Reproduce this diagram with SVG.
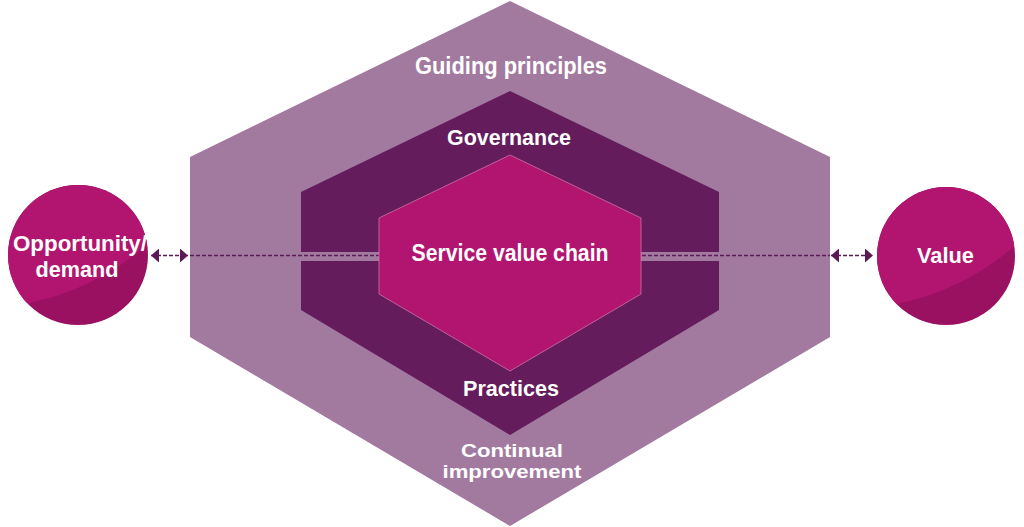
<svg xmlns="http://www.w3.org/2000/svg" width="1024" height="527" viewBox="0 0 1024 527">
  <style>
    .lbl { font-family: "Liberation Sans Narrow", "Liberation Sans", Arial, sans-serif; font-weight: bold; fill: #ffffff; text-anchor: middle; }
    .outer { fill: #A27A9F; }
    .mid { fill: #641C5D; }
    .inner { fill: #B1156F; stroke: #D77FB0; stroke-width: 1; stroke-opacity: 0.7; }
    .dash { stroke: #5B1A55; stroke-width: 1.6; stroke-dasharray: 4 2; fill: none; }
    .circ { fill: #B1156F; }
    .shade { fill: #9A1161; }
  </style>
  <defs>
    <marker id="ah" viewBox="0 0 8 14" refX="8" refY="7" markerWidth="8" markerHeight="14" markerUnits="userSpaceOnUse" orient="auto-start-reverse">
      <path d="M0,0 L8,7 L0,14 Z" fill="#5B1A55"/>
    </marker>
    <clipPath id="clipL"><circle cx="78" cy="255" r="70"/></clipPath>
    <clipPath id="clipR"><circle cx="946" cy="256" r="69"/></clipPath>
  </defs>

  <g id="guiding-principles">
    <polygon class="outer" points="510,1 830,157 830,337 510,526 190,337 190,157"/>
    <text class="lbl" x="511" y="74" font-size="23" textLength="192" lengthAdjust="spacingAndGlyphs">Guiding principles</text>
  </g>

  <g id="governance-practices">
    <polygon class="mid" points="510,91 719,192 719,310 510,435 301,310 301,192"/>
    <rect class="outer" x="301" y="252" width="80" height="9"/>
    <rect class="outer" x="640" y="252" width="79" height="9"/>
    <text class="lbl" x="509" y="145" font-size="22" textLength="124" lengthAdjust="spacingAndGlyphs">Governance</text>
    <text class="lbl" x="511" y="396" font-size="22" textLength="96" lengthAdjust="spacingAndGlyphs">Practices</text>
  </g>

  <g id="continual-improvement">
    <text class="lbl" x="512" y="456.5" font-size="19" textLength="102" lengthAdjust="spacingAndGlyphs">Continual</text>
    <text class="lbl" x="512" y="478" font-size="19" textLength="139" lengthAdjust="spacingAndGlyphs">improvement</text>
  </g>

  <g id="connectors">
    <line class="dash" x1="190" y1="255.5" x2="379" y2="255.5"/>
    <line class="dash" x1="642" y1="255.5" x2="830" y2="255.5"/>
    <line class="dash" x1="151" y1="255.5" x2="188" y2="255.5" marker-start="url(#ah)" marker-end="url(#ah)"/>
    <line class="dash" x1="831" y1="255.5" x2="873" y2="255.5" marker-start="url(#ah)" marker-end="url(#ah)"/>
  </g>

  <g id="service-value-chain">
    <polygon class="inner" points="510,155 641,218 641,294 510,371 379,294 379,218"/>
    <text class="lbl" x="510" y="261" font-size="23.5" textLength="197" lengthAdjust="spacingAndGlyphs">Service value chain</text>
  </g>

  <g id="opportunity-demand">
    <circle class="shade" cx="78" cy="255" r="70"/>
    <circle class="circ" cx="-22" cy="51" r="257" clip-path="url(#clipL)"/>
    <text class="lbl" x="80" y="251" font-size="22" textLength="134" lengthAdjust="spacingAndGlyphs">Opportunity/</text>
    <text class="lbl" x="77" y="277" font-size="22" textLength="83" lengthAdjust="spacingAndGlyphs">demand</text>
  </g>

  <g id="value">
    <circle class="shade" cx="946" cy="256" r="69"/>
    <circle class="circ" cx="846" cy="52" r="257" clip-path="url(#clipR)"/>
    <text class="lbl" x="945.5" y="263" font-size="22" textLength="57" lengthAdjust="spacingAndGlyphs">Value</text>
  </g>
</svg>
